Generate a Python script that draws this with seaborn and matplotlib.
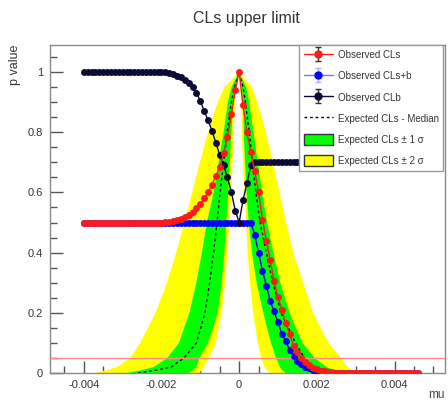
import numpy as np
import pandas as pd
import seaborn as sns
import matplotlib
matplotlib.use("Agg")
import matplotlib.pyplot as plt
from matplotlib.patches import Patch
from matplotlib.lines import Line2D
from matplotlib.legend_handler import HandlerErrorbar

# ---------------- data ----------------
# scan points of the parameter of interest "mu" (-0.0040 ... 0.0046, step 1e-4)
mu_scan = np.round(np.arange(-40, 47) * 1e-4, 5)

cls_obs = ([0.5] * 21 +
           [0.501, 0.503, 0.505, 0.508, 0.512, 0.518, 0.525, 0.535, 0.548, 0.562,
            0.58, 0.60, 0.625, 0.655, 0.685, 0.73, 0.785, 0.86, 0.94, 1.0] +
           [0.89, 0.80, 0.735, 0.67, 0.60, 0.51, 0.44, 0.375, 0.305, 0.252,
            0.21, 0.165, 0.13, 0.09, 0.07, 0.05, 0.037, 0.027, 0.018, 0.012,
            0.008, 0.005, 0.003, 0.002, 0.001] + [0.001] * 21)

clsb_obs = ([0.5] * 44 +
            [0.46, 0.40, 0.34, 0.29, 0.24, 0.205, 0.168,
             0.13, 0.105, 0.078, 0.057, 0.04, 0.03, 0.02, 0.015, 0.01, 0.007,
             0.005, 0.003, 0.002, 0.001] + [0.0] * 22)

clb_obs = ([1.0] * 21 +
           [0.999, 0.997, 0.993, 0.988, 0.982, 0.975, 0.965, 0.95, 0.93, 0.905,
            0.87, 0.84, 0.805, 0.765, 0.725, 0.69, 0.65, 0.60, 0.54, 0.50] +
           [0.575, 0.63, 0.69] + [0.70] * 43)

# expected CLs curves: mu position where each curve crosses the p levels below
p_levels = [0.0, 0.01, 0.02, 0.05, 0.1, 0.2, 0.3, 0.4, 0.5, 0.6, 0.7, 0.8, 0.9, 0.95, 1.0]

exp_p2_left = [-0.0037, -0.0034, -0.00315, -0.0028, -0.00255, -0.00215, -0.00186, -0.00162,
               -0.00141, -0.00121, -0.00101, -0.0008, -0.00055, -0.00038, 0.0]
exp_p2_right = [0.0031, 0.0029, 0.0028, 0.00262, 0.0023, 0.0019, 0.00165, 0.00139,
                0.00121, 0.00104, 0.00087, 0.00069, 0.00047, 0.00033, 0.0]
exp_p1_left = [-0.0029, -0.0025, -0.0022, -0.00185, -0.00155, -0.00128, -0.0011, -0.00096,
               -0.00083, -0.00066, -0.00053, -0.0004, -0.00029, -0.0002, 0.0]
exp_p1_right = [0.0028, 0.00245, 0.00225, 0.00195, 0.00163, 0.0013, 0.00106, 0.00088,
                0.00072, 0.00059, 0.00048, 0.00037, 0.00026, 0.00018, 0.0]
exp_med_left = [-0.0026, -0.0021, -0.00175, -0.00142, -0.0011, -0.00088, -0.00076, -0.00066,
                -0.00057, -0.00049, -0.0004, -0.00031, -0.0002, -0.00012, 0.0]
exp_med_right = [0.0025, 0.0021, 0.0019, 0.00168, 0.00145, 0.00108, 0.00087, 0.0007,
                 0.00054, 0.00043, 0.00034, 0.00026, 0.00016, 0.0001, 0.0]
exp_m1_left = [-0.0013, -0.00118, -0.0011, -0.00102, -0.0008, -0.00055, -0.00045, -0.00038,
               -0.00033, -0.00028, -0.00024, -0.0002, -0.00015, -0.0001, 0.0]
exp_m1_right = [0.0012, 0.0011, 0.00105, 0.00095, 0.00082, 0.00062, 0.00045, 0.00033,
                0.00025, 0.00019, 0.00015, 0.00012, 0.0001, 0.00007, 0.0]
exp_m2_left = [-0.00105, -0.00095, -0.0009, -0.00078, -0.0006, -0.00045, -0.00036, -0.0003,
               -0.00025, -0.0002, -0.00017, -0.00014, -0.0001, -0.00007, 0.0]
exp_m2_right = [0.0008, 0.0007, 0.00065, 0.00057, 0.00048, 0.00036, 0.00028, 0.00022,
                0.00018, 0.00014, 0.0001, 0.00007, 0.00005, 0.00003, 0.0]

cl_line = 0.05
x_ticks = [-0.004, -0.002, 0.0, 0.002, 0.004]
x_ticklabels = ["-0.004", "-0.002", "0", "0.002", "0.004"]
y_ticks = [0, 0.2, 0.4, 0.6, 0.8, 1.0]
y_ticklabels = ["0", "0.2", "0.4", "0.6", "0.8", "1"]
legend_labels = ["Observed CLs", "Observed CLs+b", "Observed CLb",
                 "Expected CLs - Median", "Expected CLs \u00b1 1 \u03c3",
                 "Expected CLs \u00b1 2 \u03c3"]


def full_curve(left, right):
    """left branch (p rising to the peak) followed by right branch (p falling)."""
    xs = list(left) + list(right[::-1][1:])
    ys = list(p_levels) + list(p_levels[::-1][1:])
    return np.array(xs), np.array(ys)


# ---------------- figure ----------------
sns.set_style("white")
plt.rcParams["font.family"] = ["Liberation Sans", "DejaVu Sans"]

fig = plt.figure(figsize=(4.48, 4.01), dpi=100)
ax = fig.add_axes([50 / 448, 28 / 401, 395 / 448, 328 / 401])

# bands
p2x, p2y = full_curve(exp_p2_left, exp_p2_right)
m2x, m2y = full_curve(exp_m2_left, exp_m2_right)
p1x, p1y = full_curve(exp_p1_left, exp_p1_right)
m1x, m1y = full_curve(exp_m1_left, exp_m1_right)
ax.fill(np.concatenate([p2x, m2x[::-1]]), np.concatenate([p2y, m2y[::-1]]),
        color="#ffff00", lw=0, zorder=1)
ax.fill(np.concatenate([p1x, m1x[::-1]]), np.concatenate([p1y, m1y[::-1]]),
        color="#00ff00", lw=0, zorder=2)

medx, medy = full_curve(exp_med_left, exp_med_right)
med_df = pd.DataFrame({"mu": medx, "p": medy})
sns.lineplot(data=med_df, x="mu", y="p", sort=False, color="black", lw=1,
             linestyle=(0, (2, 2)), ax=ax, zorder=3)

ax.axhline(cl_line, color="#ff8a8a", lw=1, zorder=4)

obs_df = pd.DataFrame({"mu": mu_scan, "CLs": cls_obs, "CLsplusb": clsb_obs, "CLb": clb_obs})
ms = 5.0
sns.lineplot(data=obs_df, x="mu", y="CLsplusb", color="#0000ff", marker="o", ms=ms,
             mec="#0000ff", mew=0, lw=1, ax=ax, zorder=5)
sns.lineplot(data=obs_df, x="mu", y="CLb", color="#0a0a35", marker="o", ms=ms,
             mec="#0a0a35", mew=0, lw=1, ax=ax, zorder=6)
sns.lineplot(data=obs_df, x="mu", y="CLs", color="#ff1a1a", marker="o", ms=ms,
             mec="#ff1a1a", mew=0, lw=1, ax=ax, zorder=7)

ax.set_xlim(-0.00487, 0.0053)
ax.set_ylim(0, 1.09)

ax.set_xticks(x_ticks)
ax.set_xticklabels(x_ticklabels)
ax.set_yticks(y_ticks)
ax.set_yticklabels(y_ticklabels)
ax.set_xticks(np.arange(-0.0045, 0.0053, 0.0005), minor=True)
ax.set_yticks(np.arange(0, 1.09, 0.05), minor=True)
ax.tick_params(which="both", direction="in", colors="#555555", labelcolor="#333333",
               labelsize=8, bottom=True, left=True, top=False, right=False)
ax.tick_params(which="major", length=9, width=1, pad=5)
ax.tick_params(which="minor", length=5, width=1)
for s in ax.spines.values():
    s.set_color("#8a8a8a")
    s.set_linewidth(1)

ax.set_xlabel("mu", fontsize=8.5, color="#444444", ha="right", va="top")
ax.xaxis.set_label_coords(1.0, -0.048)
ax.set_ylabel("p value", loc="top", fontsize=9, color="#333333", labelpad=5)
fig.text(246 / 448, 1 - 19 / 401, "CLs upper limit", ha="center", va="center",
         fontsize=11.5, color="#333333")

# legend proxies
h_cls = ax.errorbar([np.nan], [np.nan], yerr=[0.0], fmt="o-", color="#ff1a1a",
                    ms=ms, lw=1, capsize=2, ecolor="#333333")
h_clsb = ax.errorbar([np.nan], [np.nan], yerr=[0.0], fmt="o-", color="#6f7fff",
                     ms=ms, mfc="#0000ff", mec="#0000ff", lw=1, capsize=2, ecolor="#b0b0ff")
h_clb = ax.errorbar([np.nan], [np.nan], yerr=[0.0], fmt="o-", color="#0a0a35",
                    ms=ms, lw=1, capsize=2, ecolor="#333333")
h_med = Line2D([], [], color="black", lw=1, linestyle=(0, (2, 2)))
h_1s = Patch(facecolor="#00ff00", edgecolor="#333333", lw=1)
h_2s = Patch(facecolor="#ffff00", edgecolor="#333333", lw=1)

leg = ax.legend([h_cls, h_clsb, h_clb, h_med, h_1s, h_2s], legend_labels,
                loc="upper right", bbox_to_anchor=(0.995, 1.0), borderaxespad=0,
                fontsize=7, frameon=True, fancybox=False, framealpha=1,
                edgecolor="#9a9a9a", handlelength=3.0, handleheight=1.4,
                handletextpad=0.5, labelspacing=1.02, borderpad=0.45, numpoints=1,
                handler_map={type(h_cls): HandlerErrorbar(yerr_size=0.7)})
leg.get_frame().set_linewidth(1)
leg.set_zorder(20)
for t in leg.get_texts():
    t.set_color("#333333")

fig.savefig("out.png", dpi=100, facecolor="white")
